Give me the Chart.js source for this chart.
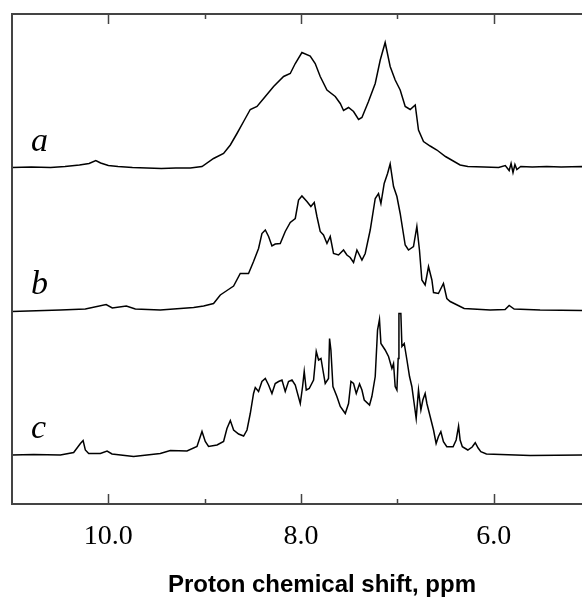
<!DOCTYPE html>
<html>
<head>
<meta charset="utf-8">
<script src="https://cdn.jsdelivr.net/npm/chart.js@4/dist/chart.umd.min.js"></script>
<style>
  html, body { margin: 0; background: #fff; overflow: hidden; }
  #wrap { width: 582px; height: 597px; overflow: hidden; }
  canvas { display: block; }
</style>
</head>
<body>
<div id="wrap"><canvas id="chart" width="632" height="600"></canvas></div>
<script>
// spectrum a: chemical shift (ppm) and intensity above its baseline
const aPpm = [11.0, 10.8, 10.6, 10.45, 10.3, 10.2, 10.13, 10.08, 10.0, 9.9, 9.75, 9.6, 9.45, 9.3, 9.149,
  9.028, 8.908, 8.804, 8.734, 8.665, 8.596, 8.527, 8.457, 8.371, 8.285, 8.181, 8.112, 8.06, 7.991,
  7.905, 7.853, 7.801, 7.731, 7.645, 7.593, 7.559, 7.507, 7.455, 7.403, 7.368, 7.3, 7.23, 7.178,
  7.127, 7.075, 7.023, 6.971, 6.919, 6.867, 6.815, 6.781, 6.729, 6.66, 6.59, 6.501, 6.349, 6.269,
  6.1, 5.95, 5.88, 5.84, 5.82, 5.8, 5.78, 5.76, 5.72, 5.6, 5.45, 5.3, 5.08, 4.8, 4.57];
const aInt = [0, 0.5, 0, 1, 2.5, 4, 7, 4.5, 2, 1, 0, -0.5, -1, -0.5, -0.5,
  1, 9, 14, 22.5, 34, 46, 58, 61, 71, 81, 91, 94, 104, 115,
  111.5, 104, 91, 77.5, 71, 64, 57, 60, 56, 48, 50, 66, 84, 107.5,
  125, 101, 87.5, 77.5, 61, 58, 62.5, 37.5, 26, 21.5, 17.5, 11, 2.5, 1,
  0.5, 0, 2, -3, 4, -5, 3, -2, 1, 0.5, 1, 0.5, 1, 0.5, 0];

// spectrum b
const bPpm = [11.0, 10.498, 10.239, 10.023, 9.959, 9.813, 9.72, 9.461, 9.253, 9.115, 9.011, 8.908,
  8.838, 8.769, 8.7, 8.631, 8.545, 8.493, 8.441, 8.406, 8.371, 8.337, 8.302, 8.268, 8.216, 8.164,
  8.112, 8.06, 8.026, 7.991, 7.939, 7.898, 7.863, 7.835, 7.801, 7.767, 7.731, 7.697, 7.663, 7.611,
  7.559, 7.524, 7.49, 7.455, 7.42, 7.368, 7.334, 7.282, 7.23, 7.196, 7.171, 7.137, 7.102, 7.075,
  7.04, 7.005, 6.971, 6.919, 6.885, 6.833, 6.798, 6.771, 6.746, 6.712, 6.677, 6.642, 6.625, 6.574,
  6.522, 6.487, 6.452, 6.307, 6.037, 5.882, 5.84, 5.788, 5.519, 5.08, 4.57];
const bInt = [-1, 0.5, 1.5, 6, 2.5, 4.5, 1.5, 0.5, 2, 3, 4.5, 7,
  15.5, 20, 24.5, 37, 37, 49, 62, 77, 80.5, 74, 64.5, 66.5, 67, 79,
  88, 92, 110.5, 114.5, 109, 104, 108, 94, 79, 75.5, 67, 74, 57, 55.5,
  60.5, 55.5, 53, 48, 60.5, 50.5, 57, 80.5, 112, 117, 107, 127, 137, 146.5,
  124, 114, 97, 65.5, 60.5, 64, 84, 60.5, 30.5, 25.5, 44, 30.5, 18, 17,
  27, 12, 9, 2, 0.5, 1, 5, 1.5, 0.5, 0, 0];

// spectrum c
const cPpm = [11.0, 10.775, 10.498, 10.36, 10.29, 10.262, 10.239, 10.204, 10.083, 10.013, 9.962,
  9.738, 9.461, 9.357, 9.184, 9.08, 9.028, 8.994, 8.96, 8.872, 8.804, 8.769, 8.734, 8.7, 8.648,
  8.596, 8.561, 8.527, 8.493, 8.475, 8.441, 8.406, 8.371, 8.337, 8.302, 8.268, 8.233, 8.198, 8.164,
  8.13, 8.094, 8.06, 8.008, 7.984, 7.967, 7.946, 7.915, 7.87, 7.842, 7.818, 7.793, 7.773, 7.749,
  7.715, 7.704, 7.69, 7.669, 7.628, 7.593, 7.541, 7.507, 7.482, 7.455, 7.427, 7.393, 7.368, 7.344,
  7.289, 7.265, 7.23, 7.206, 7.186, 7.171, 7.127, 7.092, 7.057, 7.04, 7.023, 7.005, 6.992, 6.984,
  6.964, 6.953, 6.929, 6.901, 6.874, 6.85, 6.826, 6.805, 6.781, 6.756, 6.736, 6.712, 6.694, 6.66,
  6.625, 6.598, 6.574, 6.549, 6.522, 6.487, 6.422, 6.39, 6.365, 6.349, 6.326, 6.269, 6.224, 6.192,
  6.162, 6.134, 6.076, 5.622, 5.08, 4.57];
const cInt = [0, 0.5, 0, 2.5, 11.5, 14.5, 5, 1.5, 1.5, 4, 1,
  -1.5, 1.5, 4.5, 4, 8.5, 23.5, 13.5, 8.5, 10, 13.5, 26.5, 34.5, 25, 21,
  19, 25, 41.5, 61.5, 67.5, 63.5, 73.5, 76.5, 70, 61.5, 71.5, 73.5, 75, 63.5,
  73.5, 75, 70, 51.5, 68.5, 83.5, 65, 66.5, 75, 103.5, 95, 96.5, 85, 71.5,
  76.5, 116.5, 105, 68.5, 58.5, 48.5, 41.5, 51.5, 73.5, 71.5, 61.5, 71, 65, 55,
  50, 58.5, 78.5, 125, 135.5, 111.5, 105, 98.5, 86.5, 91.5, 68.5, 65, 96.5, 141.5,
  141.5, 108.5, 111.5, 95, 78.5, 68.5, 51.5, 36.5, 65, 45, 55, 61.5, 51.5, 38.5,
  25, 11.5, 18.5, 23.3, 13.3, 8.3, 8.3, 15, 29, 15, 8.3, 5, 8, 12.3,
  7, 3.3, 1, -0.5, 0, 0];

// axis ticks
const tickValues = [10, 9, 8, 7, 6];
const labeledTicks = [10, 8, 6];

// vertical offsets used to stack the spectra
const spectra = [
  { name: 'a', ppm: aPpm, int: aInt, offset: 336.5 },
  { name: 'b', ppm: bPpm, int: bInt, offset: 193.5 },
  { name: 'c', ppm: cPpm, int: cInt, offset: 49 }
];

const datasets = spectra.map(function (s) {
  return {
    label: s.name,
    data: s.ppm.map(function (p, i) { return { x: p, y: s.int[i] + s.offset }; }),
    borderColor: '#000',
    borderWidth: 1.5,
    pointRadius: 0,
    tension: 0,
    fill: false
  };
});

// frame, inward ticks and trace letters
const framePlugin = {
  id: 'frame',
  afterDraw: function (chart) {
    const ctx = chart.ctx;
    const area = chart.chartArea;
    const xs = chart.scales.x;
    const ys = chart.scales.y;
    ctx.save();
    ctx.strokeStyle = '#444';
    ctx.lineWidth = 2;
    ctx.beginPath();
    ctx.moveTo(area.right, area.top);
    ctx.lineTo(area.left, area.top);
    ctx.lineTo(area.left, area.bottom);
    ctx.lineTo(area.right, area.bottom);
    ctx.stroke();
    ctx.lineWidth = 1.5;
    tickValues.forEach(function (v) {
      const px = Math.round(xs.getPixelForValue(v)) + 0.5;
      const len = labeledTicks.includes(v) ? 10 : 5;
      ctx.beginPath();
      ctx.moveTo(px, area.bottom);
      ctx.lineTo(px, area.bottom - len);
      ctx.moveTo(px, area.top);
      ctx.lineTo(px, area.top + len);
      ctx.stroke();
    });
    ctx.fillStyle = '#000';
    ctx.font = 'italic 34px "Liberation Serif"';
    ctx.textBaseline = 'alphabetic';
    spectra.forEach(function (s) {
      ctx.fillText(s.name, area.left + 19, ys.getPixelForValue(s.offset) - 17);
    });
    ctx.restore();
  }
};

let ctx = document.getElementById('chart').getContext('2d');
let myChart = new Chart(ctx, {
  type: 'line',
  data: { datasets: datasets },
  options: {
    responsive: false,
    animation: false,
    devicePixelRatio: 1,
    layout: { padding: { left: 12, top: 14, right: 0, bottom: 0 } },
    plugins: { legend: { display: false }, tooltip: { enabled: false } },
    scales: {
      x: {
        type: 'linear',
        reverse: true,
        min: 4.565,
        max: 11.0,
        grid: { display: false, drawTicks: false },
        border: { display: false },
        afterBuildTicks: function (scale) {
          scale.ticks = tickValues.map(function (v) { return { value: v }; });
        },
        afterFit: function (scale) { scale.height = 96; },
        ticks: {
          autoSkip: false,
          maxRotation: 0,
          padding: 16,
          color: '#000',
          font: { family: '"Liberation Serif"', size: 28 },
          callback: function (v) { return labeledTicks.includes(v) ? v.toFixed(1) : ''; }
        },
        title: {
          display: true,
          text: 'Proton chemical shift, ppm',
          color: '#000',
          font: { family: '"Liberation Sans"', size: 24, weight: 'bold' },
          padding: { top: 0, bottom: 0 }
        }
      },
      y: { display: false, min: 0, max: 490 }
    }
  },
  plugins: [framePlugin]
});
</script>
</body>
</html>
